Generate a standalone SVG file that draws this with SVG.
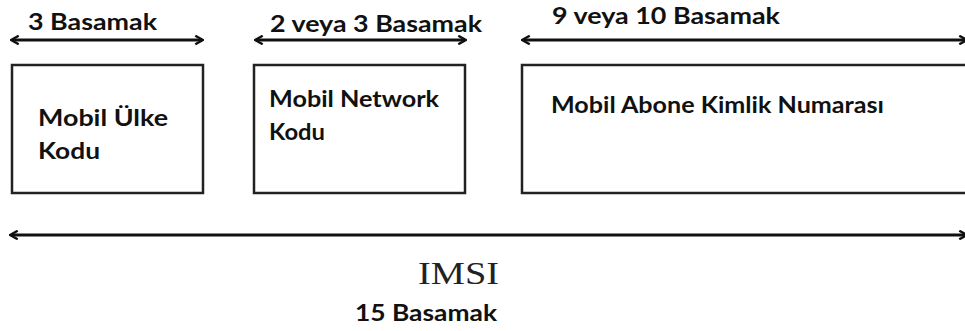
<svg xmlns="http://www.w3.org/2000/svg" width="965" height="331" viewBox="0 0 965 331">
<style>
.lbl{font-family:Lato,"Open Sans","Liberation Sans",sans-serif;font-weight:bold;fill:#111;}
.box{fill:#fff;stroke:#222;stroke-width:2.5;}
.arr{stroke:#111;stroke-width:3;fill:none;}
</style>
<defs>
<marker id="ah" viewBox="0 0 10 10" refX="8" refY="5" markerWidth="3.2" markerHeight="3.6" orient="auto-start-reverse" markerUnits="strokeWidth">
<path d="M1,0.5 L9,5 L1,9.5" fill="none" stroke="#111" stroke-width="2.4"/>
</marker>
</defs>
<rect width="965" height="331" fill="#fff"/>
<g id="connectors">
<line class="arr" x1="12" y1="40" x2="202" y2="40" marker-start="url(#ah)" marker-end="url(#ah)"/>
<line class="arr" x1="256" y1="40" x2="465" y2="40" marker-start="url(#ah)" marker-end="url(#ah)"/>
<line class="arr" x1="523" y1="40" x2="966" y2="40" marker-start="url(#ah)" marker-end="url(#ah)"/>
<line class="arr" x1="11" y1="235" x2="966" y2="235" marker-start="url(#ah)" marker-end="url(#ah)"/>
</g>
<g id="label-mcc">
<text class="lbl" x="28" y="30" font-size="22" textLength="129" lengthAdjust="spacingAndGlyphs">3 Basamak</text>
</g>
<g id="label-mnc">
<text class="lbl" x="270" y="32" font-size="22" textLength="212" lengthAdjust="spacingAndGlyphs">2 veya 3 Basamak</text>
</g>
<g id="label-msin">
<text class="lbl" x="552" y="24" font-size="22" textLength="228" lengthAdjust="spacingAndGlyphs">9 veya 10 Basamak</text>
</g>
<g id="node-mcc">
<rect class="box" x="12" y="65" width="191" height="128"/>
<text class="lbl" x="38" y="126" font-size="22" textLength="130" lengthAdjust="spacingAndGlyphs">Mobil Ülke</text>
<text class="lbl" x="38" y="159" font-size="22" textLength="62" lengthAdjust="spacingAndGlyphs">Kodu</text>
</g>
<g id="node-mnc">
<rect class="box" x="254" y="65" width="211" height="128"/>
<text class="lbl" x="269" y="107" font-size="22" textLength="170" lengthAdjust="spacingAndGlyphs">Mobil Network</text>
<text class="lbl" x="269" y="140" font-size="22" textLength="56" lengthAdjust="spacingAndGlyphs">Kodu</text>
</g>
<g id="node-msin">
<rect class="box" x="522" y="65" width="446" height="128"/>
<text class="lbl" x="551" y="113" font-size="22" textLength="333" lengthAdjust="spacingAndGlyphs">Mobil Abone Kimlik Numarası</text>
</g>
<g id="imsi">
<text x="418" y="284" font-family="'Liberation Serif',serif" font-size="31" fill="#222" textLength="81" lengthAdjust="spacingAndGlyphs">IMSI</text>
<text class="lbl" x="355" y="321" font-size="22" textLength="142" lengthAdjust="spacingAndGlyphs">15 Basamak</text>
</g>
</svg>
